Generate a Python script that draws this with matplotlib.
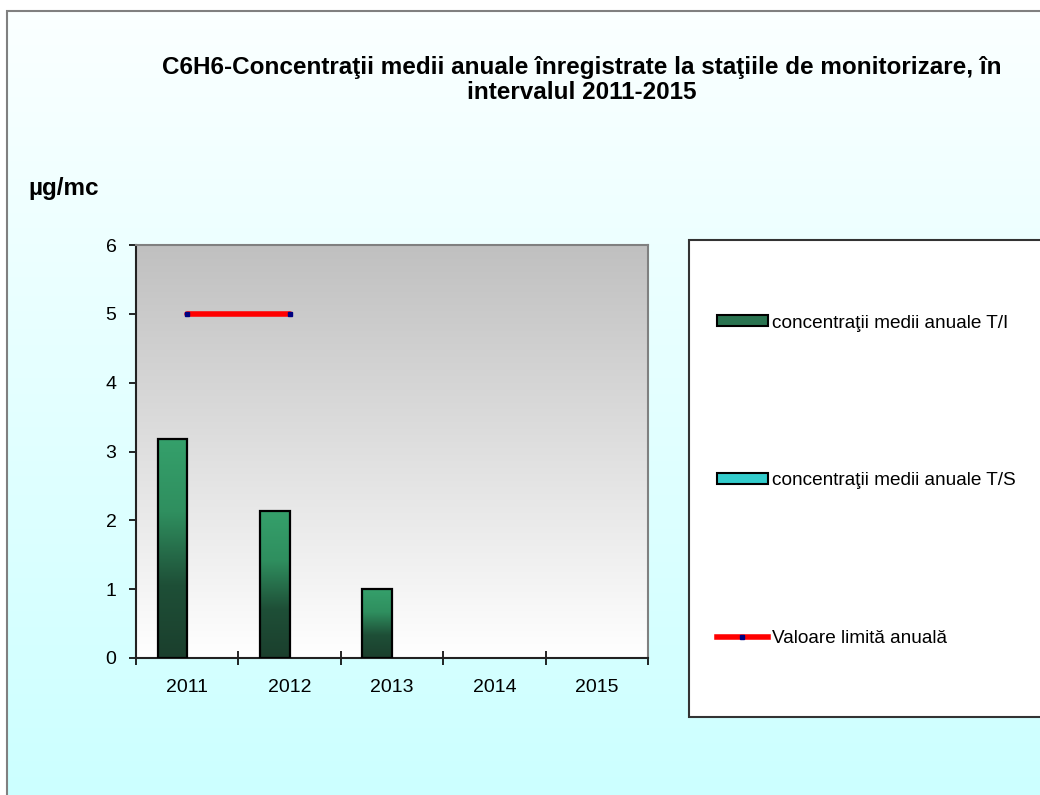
import numpy as np
import matplotlib
matplotlib.use('Agg')
import matplotlib.pyplot as plt
from matplotlib.patches import Rectangle, Patch
from matplotlib.lines import Line2D
from matplotlib.colors import LinearSegmentedColormap

plt.rcParams['font.family'] = ['Liberation Sans', 'DejaVu Sans']

# data
years = ['2011', '2012', '2013', '2014', '2015']
ti_values = [3.18, 2.13, 1.0, np.nan, np.nan]
ts_values = [np.nan, np.nan, np.nan, np.nan, np.nan]
limit_values = [5, 5, np.nan, np.nan, np.nan]

title = ('C6H6-Concentraţii medii anuale înregistrate la staţiile de monitorizare, în\n'
         'intervalul 2011-2015')
unit = 'µg/mc'
lbl_ti = 'concentraţii medii anuale T/I'
lbl_ts = 'concentraţii medii anuale T/S'
lbl_lim = 'Valoare limită anuală'

W, H = 1040, 795
fig = plt.figure(figsize=(W / 100, H / 100), dpi=100)
fig.patch.set_facecolor('white')

# figure background gradient (white -> light cyan)
bg = fig.add_axes([7 / W, 0, 1 - 7 / W, 1 - 11 / H], zorder=-5)
bg_cmap = LinearSegmentedColormap.from_list('bg', ['#FBFFFF', '#CCFFFF'])
bg.imshow(np.linspace(0, 1, 256).reshape(-1, 1), aspect='auto', cmap=bg_cmap,
          extent=[0, 1, 0, 1], origin='upper')
bg.set_xlim(0, 1)
bg.set_ylim(0, 1)
bg.set_axis_off()
fig.add_artist(Rectangle((7 / W, -0.1), 1.2, 1 - 11 / H + 0.1, transform=fig.transFigure,
                         fill=False, edgecolor='#808080', lw=1.5, zorder=-4))

# plot area
L, R, T, B = 136, 648, 245, 658
ax = fig.add_axes([L / W, 1 - B / H, (R - L) / W, (B - T) / H])
x = np.arange(len(years))
ax.set_xlim(-0.5, len(years) - 0.5)
ax.set_ylim(0, 6)

pa_cmap = LinearSegmentedColormap.from_list('pa', ['#C0C0C0', '#FFFFFF'])
ax.imshow(np.linspace(0, 1, 256).reshape(-1, 1), aspect='auto', cmap=pa_cmap,
          extent=[-0.5, len(years) - 0.5, 0, 6], origin='upper', zorder=0)

w = 0.29
bar_cmap = LinearSegmentedColormap.from_list('bar', ['#35A06B', '#2F8F5F', '#1E4F37', '#1B3F2D'])
bars = ax.bar(x - w / 2, ti_values, w, facecolor='none', edgecolor='black', lw=1.6, zorder=3)
for b in bars:
    h = b.get_height()
    if not np.isfinite(h) or h <= 0:
        continue
    im = ax.imshow(np.linspace(0, 1, 256).reshape(-1, 1), aspect='auto', cmap=bar_cmap,
                   extent=[b.get_x(), b.get_x() + w, 0, h], origin='upper', zorder=2)
    im.set_clip_path(b)
ax.bar(x + w / 2, ts_values, w, facecolor='#33CCCC', edgecolor='black', lw=1.6, zorder=3)

ax.plot(x, limit_values, color='red', lw=4, solid_capstyle='round', marker='s', ms=3,
        mfc='#000080', mec='#000080', zorder=4)

ax.set_xlim(-0.5, len(years) - 0.5)
ax.set_ylim(0, 6)
ax.set_yticks(range(0, 7))
ax.tick_params(axis='y', direction='out', length=5, width=1.2, labelsize=14, pad=9)
ax.set_xticks(np.arange(-0.5, len(years), 1))
ax.set_xticklabels([])
ax.set_xticks(x, minor=True)
ax.set_xticklabels(years, minor=True)
ax.tick_params(axis='x', which='major', direction='inout', length=10, width=1.2)
ax.tick_params(axis='x', which='minor', length=0, labelsize=14, pad=15)
for s in ['left', 'bottom']:
    ax.spines[s].set_color('#222222')
    ax.spines[s].set_linewidth(1.5)
for s in ['top', 'right']:
    ax.spines[s].set_color('#808080')
    ax.spines[s].set_linewidth(1.5)

fig.text(582 / W, 1 - 80 / H, title, ha='center', va='center', fontsize=17.5,
         fontweight='bold', linespacing=1.15)
fig.text(28 / W, 1 - 188 / H, unit, ha='left', va='center', fontsize=17.5, fontweight='bold')

# legend box
fig.add_artist(Rectangle((689 / W, 1 - 717 / H), 0.5, (717 - 240) / H, transform=fig.transFigure,
                         facecolor='white', edgecolor='#333333', lw=1.5, zorder=1))
handles = [Patch(facecolor='#2A7350', edgecolor='black', lw=1.5),
           Patch(facecolor='#33CCCC', edgecolor='black', lw=1.5),
           Line2D([0], [0], color='red', lw=4, marker='s', ms=3, mfc='#000080', mec='#000080')]
leg = fig.legend(handles, [lbl_ti, lbl_ts, lbl_lim], loc='upper left',
                 bbox_to_anchor=(707 / W, 1 - 305 / H), frameon=False, fontsize=13.7,
                 handlelength=2.7, handleheight=0.5, handletextpad=0.2, labelspacing=7.4,
                 borderpad=0, numpoints=1)
leg.set_zorder(2)

fig.savefig('out.png', dpi=100)
